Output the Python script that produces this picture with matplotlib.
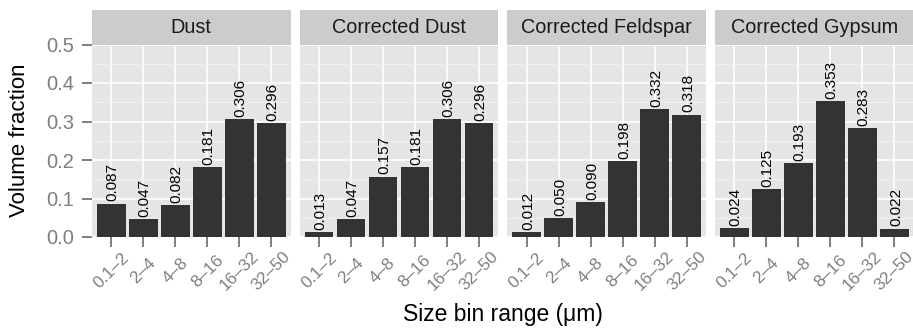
import matplotlib
matplotlib.use('Agg')
import matplotlib.pyplot as plt
import matplotlib.transforms as mtransforms
import numpy as np

plt.rcParams['font.family'] = ['Liberation Sans', 'DejaVu Sans']

# ---- data ----
categories = ['0.1–2', '2–4', '4–8', '8–16', '16–32', '32–50']
panel_titles = ['Dust', 'Corrected Dust', 'Corrected Feldspar', 'Corrected Gypsum']
dust = [0.087, 0.047, 0.082, 0.181, 0.306, 0.296]
corrected_dust = [0.013, 0.047, 0.157, 0.181, 0.306, 0.296]
corrected_feldspar = [0.012, 0.050, 0.090, 0.198, 0.332, 0.318]
corrected_gypsum = [0.024, 0.125, 0.193, 0.353, 0.283, 0.022]
series = [dust, corrected_dust, corrected_feldspar, corrected_gypsum]
y_ticks = [0.0, 0.1, 0.2, 0.3, 0.4, 0.5]
y_minor = [0.05, 0.15, 0.25, 0.35, 0.45]

W, H = 913, 329
fig = plt.figure(figsize=(W / 100, H / 100), dpi=100)
fig.patch.set_facecolor('white')

lefts = [92, 299.7, 507.4, 715.1]
pw = 198.5
ptop, pbot = 44.5, 237
stop = 10
grey50 = '#7F7F7F'

for i, (title, vals) in enumerate(zip(panel_titles, series)):
    ax = fig.add_axes([lefts[i] / W, 1 - pbot / H, pw / W, (pbot - ptop) / H])
    ax.set_facecolor('#E5E5E5')
    x = np.arange(1, len(categories) + 1)
    ax.bar(x, vals, width=0.9, color='#333333', zorder=3)
    ax.set_xlim(0.4, len(categories) + 0.6)
    ax.set_ylim(0, 0.5)
    ax.set_yticks(y_ticks)
    ax.set_yticks(y_minor, minor=True)
    ax.set_axisbelow(True)
    ax.grid(which='minor', axis='y', color='#F2F2F2', lw=0.6, zorder=0)
    ax.grid(which='major', color='white', lw=1.2, zorder=1)
    for s in ax.spines.values():
        s.set_visible(False)
    ax.tick_params(axis='both', which='major', direction='out', length=7.5, width=1.4,
                   color=grey50, labelcolor=grey50)
    ax.tick_params(axis='y', which='minor', length=0)
    ax.set_xticks(x)
    ax.set_xticklabels(categories, rotation=45, ha='center', va='center',
                       rotation_mode='anchor', fontsize=12.3)
    ax.tick_params(axis='x', pad=17)
    if i == 0:
        ax.set_yticklabels([f'{t:.1f}' for t in y_ticks], fontsize=14.5)
        ax.tick_params(axis='y', pad=5.5)
    else:
        ax.tick_params(axis='y', which='major', length=0, labelleft=False)

    off = mtransforms.ScaledTranslation(0, 1.5 / 72, fig.dpi_scale_trans)
    for xi, v in zip(x, vals):
        ax.text(xi, v, f'{v:.3f}', rotation=90, ha='left', va='center_baseline',
                rotation_mode='anchor', fontsize=11, color='black',
                transform=ax.transData + off, zorder=4)

    sax = fig.add_axes([lefts[i] / W, 1 - ptop / H, pw / W, (ptop - stop) / H])
    sax.set_facecolor('#CCCCCC')
    sax.set_xticks([])
    sax.set_yticks([])
    for s in sax.spines.values():
        s.set_visible(False)
    sax.text(0.5, 0.5, title, ha='center', va='center', fontsize=14.3,
             color='#1A1A1A', transform=sax.transAxes)

fig.text(19.5 / W, 1 - 140.7 / H, 'Volume fraction', rotation=90, ha='center',
         va='center', fontsize=16, color='black')
fig.text(502.5 / W, 1 - 314 / H, 'Size bin range (μm)', ha='center', va='center',
         fontsize=16.5, color='black')

fig.savefig('out.png', dpi=100)
